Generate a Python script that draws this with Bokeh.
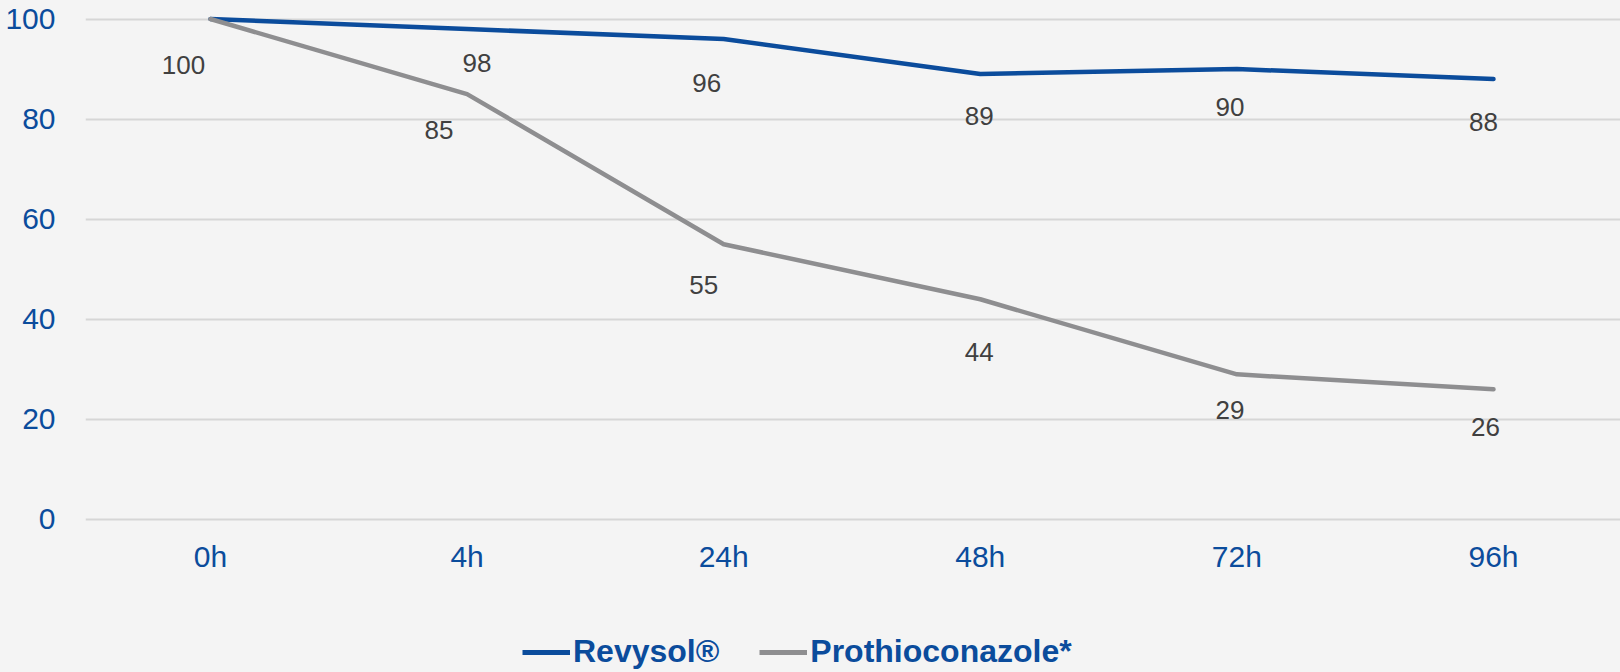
import re
from bokeh.plotting import figure
from bokeh.layouts import column
from bokeh.models import ColumnDataSource, Range1d, FixedTicker, Legend, LegendItem
from bokeh.core.properties import value
from bokeh.embed import file_html
from bokeh.resources import INLINE

# ---- data ----
times = ["0h", "4h", "24h", "48h", "72h", "96h"]
revysol = [100, 98, 96, 89, 90, 88]
prothio = [100, 85, 55, 44, 29, 26]
prothio_labels = ["", "85", "55", "44", "29", "26"]
series_names = ["Revysol®", "Prothioconazole*"]

# label nudges in screen pixels (style, not data)
rev_dx = [-27, 10, -17, -1, -7, -10]
rev_dy = [46, 34, 44, 42, 38, 43]
pro_dx = [0, -28, -20, -1, -7, -8]
pro_dy = [0, 36, 41, 53, 36, 38]

BLUE = "#0B4C9C"
GRAY = "#8E8E90"
LABEL = "#404040"
BG = "#F4F4F4"
FONT = "Liberation Sans"

xs = list(range(len(times)))

p = figure(width=1620, height=616, output_backend="svg", toolbar_location=None,
           x_range=Range1d(-0.487, 5.495), y_range=Range1d(-1.8, 103.7))
p.min_border_left = 85
p.min_border_right = 0
p.min_border_top = 0
p.min_border_bottom = 88
p.background_fill_color = BG
p.border_fill_color = BG
p.outline_line_color = None

src_r = ColumnDataSource(dict(x=xs, y=revysol, t=[str(v) for v in revysol], dx=rev_dx, dy=rev_dy))
src_p = ColumnDataSource(dict(x=xs, y=prothio, t=prothio_labels, dx=pro_dx, dy=pro_dy))

p.line("x", "y", source=src_r, line_color=BLUE, line_width=4.5,
       line_join="round", line_cap="round")
p.line("x", "y", source=src_p, line_color=GRAY, line_width=4.5,
       line_join="round", line_cap="round")

for src in (src_r, src_p):
    p.text("x", "y", text="t", source=src, x_offset="dx", y_offset="dy",
           text_align="center", text_baseline="middle", text_color=LABEL,
           text_font=value(FONT), text_font_size="26px")

# axes
p.xaxis.ticker = FixedTicker(ticks=xs)
p.xaxis.major_label_overrides = {i: t for i, t in enumerate(times)}
p.yaxis.ticker = FixedTicker(ticks=[0, 20, 40, 60, 80, 100])
for ax in (p.xaxis[0], p.yaxis[0]):
    ax.axis_line_color = None
    ax.major_tick_line_color = None
    ax.minor_tick_line_color = None
    ax.major_tick_out = 0
    ax.major_tick_in = 0
    ax.major_label_text_color = BLUE
    ax.major_label_text_font = FONT
    ax.major_label_text_font_size = "30px"
p.xaxis.major_label_standoff = 11
p.yaxis.major_label_standoff = 30

p.xgrid.grid_line_color = None
p.ygrid.grid_line_color = "#D6D6D6"
p.ygrid.grid_line_width = 2

# ---- legend strip below the chart ----
lg = figure(width=1620, height=56, output_backend="svg", toolbar_location=None,
            x_range=Range1d(0, 1), y_range=Range1d(0, 1),
            x_axis_type=None, y_axis_type=None)
lg.min_border_left = 85
lg.min_border_right = 0
lg.min_border_top = 0
lg.min_border_bottom = 0
lg.background_fill_color = BG
lg.border_fill_color = BG
lg.outline_line_color = None
lg.xgrid.visible = False
lg.ygrid.visible = False
# same series, outside this strip's visible range: only their legend glyphs show
l1 = lg.line(xs, revysol, line_color=BLUE, line_width=5)
l2 = lg.line(xs, prothio, line_color=GRAY, line_width=5)

legend = Legend(items=[LegendItem(label=series_names[0], renderers=[l1]),
                       LegendItem(label=series_names[1], renderers=[l2])],
                orientation="horizontal", location=(437, 2),
                background_fill_alpha=0, border_line_color=None,
                margin=0, padding=0, spacing=40,
                glyph_width=48, glyph_height=20, label_standoff=3,
                label_text_font=FONT, label_text_font_size="32px",
                label_text_font_style="bold", label_text_color=BLUE)
lg.add_layout(legend, "center")

layout = column(p, lg, spacing=0)
html = file_html(layout, INLINE)
html = html.replace("</head>", "<style>html, body { background: %s; }</style></head>" % BG, 1)
open("out.html", "w").write(html)
